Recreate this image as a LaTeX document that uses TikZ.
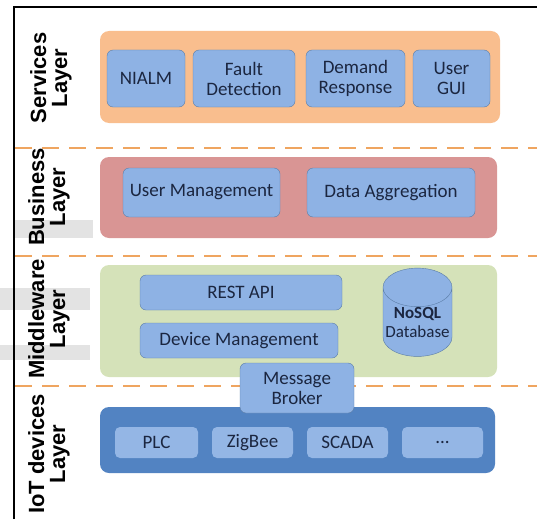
\documentclass[tikz,border=0pt]{standalone}
\usepackage{fontspec}
\setmainfont{Carlito}
\newfontfamily\labelfont{Liberation Sans}
\usepackage{xcolor}
\usetikzlibrary{shapes.geometric}
\definecolor{svcorange}{HTML}{F9BE8E}
\definecolor{buspink}{HTML}{D99594}
\definecolor{midgreen}{HTML}{D5E2B9}
\definecolor{iotblue}{HTML}{5283C2}
\definecolor{boxblue}{HTML}{8EB2E4}
\definecolor{boxedge}{HTML}{5B7DA6}
\definecolor{boxtext}{HTML}{1B2640}
\definecolor{sepline}{HTML}{EFA560}

\begin{document}
\begin{tikzpicture}[x=1pt, y=-1pt,
  layer/.style={rounded corners=9pt, inner sep=0pt},
  mod/.style={draw=boxedge, fill=boxblue, rounded corners=6pt, align=center, text=boxtext,
    inner sep=0pt, font=\fontsize{19}{20}\selectfont},
  dev/.style={mod, draw=none, fill=boxblue!95!white, rounded corners=5pt},
  lbl/.style={rotate=90, align=center, font=\labelfont\bfseries\fontsize{22}{21}\selectfont},
  sep/.style={sepline, line width=2.6pt, dash pattern=on 17pt off 10pt}
]
\useasboundingbox (0,0) rectangle (537,519);

% grey patches on the left margin
\fill[gray!22] (15,220) rectangle (93,238);
\fill[gray!22] (0,288) rectangle (90,310);
\fill[gray!22] (0,345) rectangle (90,360);

% frame
\draw[line width=1.4pt] (14,519) |- (537,7);

% layer separators
\draw[sep] (15,148) -- (537,148);
\draw[sep] (15,256) -- (537,256);
\draw[sep] (15,386) -- (537,386);

% layer titles
\node[lbl] (tsvc) at (51,78) {Services\\Layer};
\node[lbl] (tbus) at (49,197) {Business\\Layer};
\node[lbl] (tmid) at (49,319) {Middleware\\Layer};
\node[lbl] (tiot) at (49,454) {IoT devices\\Layer};

% layer backgrounds
\node[layer, fill=svcorange, minimum width=400pt, minimum height=92pt] (svc) at (300,77) {};
\node[layer, fill=buspink, minimum width=397pt, minimum height=81pt] (bus) at (298.5,197.5) {};
\node[layer, fill=midgreen, minimum width=397pt, minimum height=112pt] (mid) at (298.5,321) {};
\node[layer, fill=iotblue, minimum width=395pt, minimum height=66pt] (iot) at (297.5,440) {};

% services
\node[mod, minimum width=78pt, minimum height=57pt] (nialm) at (146,78.5) {NIALM};
\node[mod, minimum width=102pt, minimum height=57pt] (fault) at (244,78.5) {Fault\\Detection};
\node[mod, minimum width=99pt, minimum height=57pt] (demand) at (355.5,78.5) {Demand\\Response};
\node[mod, minimum width=77pt, minimum height=57pt] (gui) at (451.5,78.5) {User\\GUI};

% business
\node[mod, minimum width=157pt, minimum height=49pt] (usermgmt) at (201.5,192.5) {User Management};
\node[mod, minimum width=168pt, minimum height=49pt] (aggr) at (391,192.5) {Data Aggregation};

% middleware
\node[mod, minimum width=202pt, minimum height=35pt] (rest) at (241,292.5) {REST API};
\node[mod, minimum width=198pt, minimum height=35pt] (devmgmt) at (239,340.5) {Device Management};
\node[mod, cylinder, shape border rotate=90, aspect=0.6, minimum width=69pt, minimum height=72pt,
  font=\fontsize{17}{20}\selectfont, rounded corners=0pt] (nosql) at (417.5,322) {\textbf{NoSQL}\\[-1pt]Database};

% devices
\node[dev, minimum width=83pt, minimum height=31pt] (plc) at (156.5,442.5) {PLC};
\node[dev, minimum width=81pt, minimum height=31pt] (zigbee) at (252.5,442.5) {ZigBee};
\node[dev, minimum width=81pt, minimum height=31pt] (scada) at (347.5,442.5) {SCADA};
\node[dev, minimum width=81pt, minimum height=31pt] (more) at (442.5,442.5) {...};

\node[mod, minimum width=114pt, minimum height=50pt] (broker) at (297,388) {Message\\Broker};

\end{tikzpicture}
\end{document}
